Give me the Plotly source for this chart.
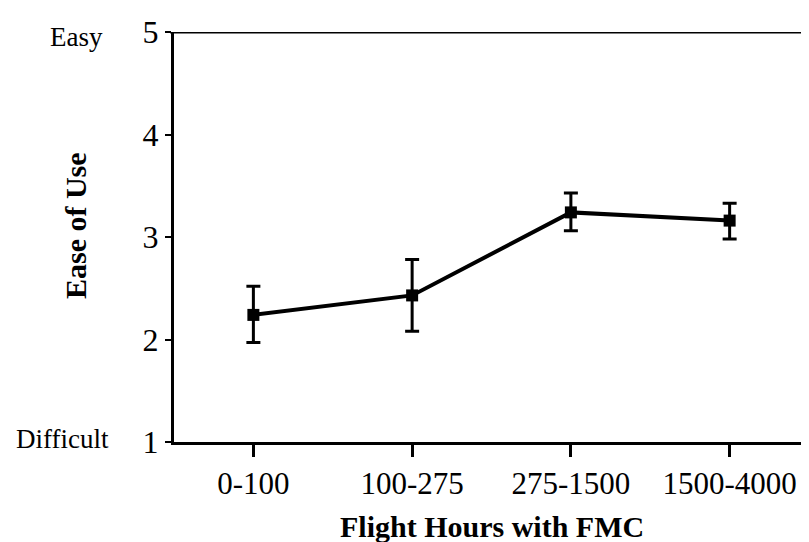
import plotly.graph_objects as go

categories = ["0-100", "100-275", "275-1500", "1500-4000"]
ease_of_use = [2.24, 2.43, 3.24, 3.16]
error_plus = [0.28, 0.35, 0.19, 0.17]
error_minus = [0.27, 0.35, 0.18, 0.18]
y_ticks = [1, 2, 3, 4, 5]

FONT = "Liberation Serif"

fig = go.Figure()
fig.add_trace(go.Scatter(
    x=list(range(len(categories))), y=ease_of_use,
    mode="lines+markers",
    line=dict(color="black", width=4),
    marker=dict(symbol="square", size=12, color="black"),
    error_y=dict(type="data", symmetric=False, array=error_plus, arrayminus=error_minus,
                 color="black", thickness=3, width=7),
    showlegend=False,
))

# page body has an 8px margin, so the figure is sized to fit inside the window
fig.update_layout(
    width=801, height=534,
    margin=dict(l=166, r=0, t=24, b=100),
    paper_bgcolor="white", plot_bgcolor="white",
    font=dict(family=FONT, color="black", size=24),
    xaxis=dict(
        range=[-0.5, 3.5], tickmode="array", tickvals=list(range(len(categories))),
        ticktext=categories, showgrid=False, zeroline=False, automargin=False,
        showline=True, linecolor="black", linewidth=3,
        ticks="outside", ticklen=12, tickwidth=3, tickcolor="black",
        tickfont=dict(size=31, family=FONT),
    ),
    yaxis=dict(
        range=[1, 5], tickmode="array", tickvals=y_ticks, ticktext=[str(v) for v in y_ticks],
        showgrid=False, zeroline=False, automargin=False,
        showline=True, linecolor="black", linewidth=3,
        ticks="outside", ticklen=6, tickwidth=2, tickcolor="black",
        tickfont=dict(size=32, family=FONT),
    ),
    shapes=[dict(type="line", xref="paper", yref="y", x0=-0.006, x1=1, y0=5, y1=5,
                 line=dict(color="black", width=3))],
    annotations=[
        dict(text="Easy", xref="paper", yref="paper", x=-0.153, y=0.988, showarrow=False,
             xanchor="center", yanchor="middle", font=dict(size=27, family=FONT)),
        dict(text="Difficult", xref="paper", yref="paper", x=-0.176, y=0.007, showarrow=False,
             xanchor="center", yanchor="middle", font=dict(size=27, family=FONT)),
        dict(text="<b>Flight Hours with FMC</b>", xref="paper", yref="paper", x=0.5, y=-0.207,
             showarrow=False, xanchor="center", yanchor="middle", font=dict(size=30, family=FONT)),
        dict(text="<b>Ease of Use</b>", xref="paper", yref="paper", x=-0.156, y=0.529,
             showarrow=False, xanchor="center", yanchor="middle", textangle=-90,
             font=dict(size=30, family=FONT)),
    ],
)

fig.write_html("out.html")
